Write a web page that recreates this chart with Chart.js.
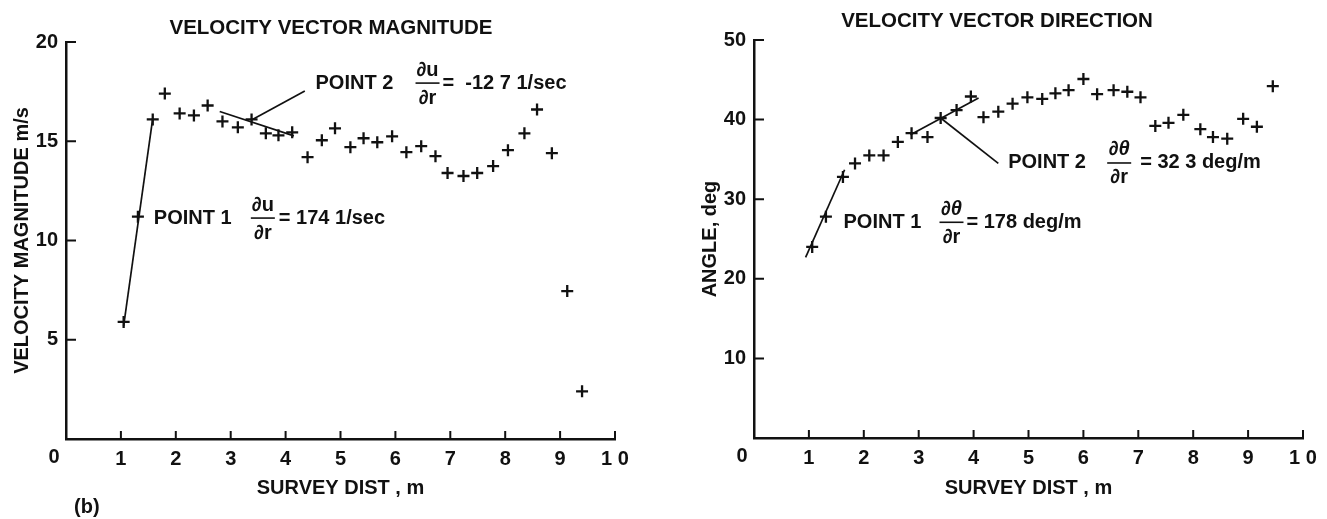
<!DOCTYPE html>
<html>
<head>
<meta charset="utf-8">
<title>Velocity vector magnitude and direction</title>
<script src="https://cdn.jsdelivr.net/npm/chart.js@4.4.1/dist/chart.umd.min.js"></script>
<style>
  html, body { margin: 0; padding: 0; background: #fff; }
  #wrap { position: relative; width: 1327px; height: 519px; overflow: hidden; }
  #magChart { position: absolute; left: 0; top: 0; }
  #dirChart { position: absolute; left: 660px; top: 0; }
</style>
</head>
<body>
<div id="wrap">
  <canvas id="magChart" width="660" height="519"></canvas>
  <canvas id="dirChart" width="667" height="519"></canvas>
</div>
<script>
const FONT = '"Liberation Sans", Arial, Helvetica, sans-serif';
const INK = '#111';

// left panel - velocity vector magnitude (m/s) against survey distance (m)
const magDist = [1.05, 1.31, 1.58, 1.8, 2.07, 2.33, 2.58, 2.85, 3.13, 3.38,
                 3.64, 3.87, 4.12, 4.4, 4.66, 4.9, 5.18, 5.42, 5.67, 5.94,
                 6.2, 6.47, 6.73, 6.95, 7.24, 7.49, 7.78, 8.05, 8.35, 8.58,
                 8.85, 9.13, 9.4];
const magSpeed = [5.9, 11.2, 16.1, 17.4, 16.4, 16.3, 16.8, 16.0, 15.7, 16.1,
                  15.4, 15.3, 15.45, 14.2, 15.05, 15.65, 14.7, 15.15, 14.95, 15.25,
                  14.45, 14.75, 14.25, 13.4, 13.25, 13.4, 13.75, 14.55, 15.4, 16.6,
                  14.4, 7.45, 2.4];
const magTangent1 = [[1.05, 5.7], [1.58, 16.15]];
const magTangent2 = [[2.8, 16.5], [4.15, 15.27]];
const magLeader2 = [[3.38, 16.07], [4.35, 17.53]];

// right panel - velocity vector direction (deg) against survey distance (m)
const dirDist = [1.06, 1.31, 1.62, 1.84, 2.1, 2.36, 2.62, 2.87, 3.16, 3.4,
                 3.69, 3.95, 4.18, 4.45, 4.71, 4.98, 5.25, 5.49, 5.73, 6.0,
                 6.25, 6.55, 6.8, 7.04, 7.31, 7.55, 7.82, 8.13, 8.36, 8.62,
                 8.91, 9.16, 9.45];
const dirAngle = [24.0, 27.8, 32.8, 34.5, 35.5, 35.5, 37.2, 38.3, 37.8, 40.2,
                  41.2, 42.9, 40.3, 41.0, 42.0, 42.8, 42.6, 43.3, 43.7, 45.1,
                  43.2, 43.7, 43.5, 42.8, 39.2, 39.6, 40.6, 38.8, 37.8, 37.6,
                  40.1, 39.1, 44.2];
const dirTangent1 = [[0.94, 22.7], [1.65, 33.7]];
const dirTangent2 = [[2.85, 38.1], [4.09, 42.7]];
const dirLeader2 = [[3.4, 40.2], [4.45, 34.5]];

// x tick labels: the 0 sits at the shared origin, 10 is printed spaced
const xTickLabels = ['0', '1', '2', '3', '4', '5', '6', '7', '8', '9', '1 0'];

const toPts = (xs, ys) => xs.map((v, i) => ({ x: v, y: ys[i] }));
const toXY = pairs => pairs.map(p => ({ x: p[0], y: p[1] }));

// inward tick marks, origin label, panel title and the derivative notes
const panelDecor = {
  id: 'panelDecor',
  afterDraw(chart, args, opts) {
    const { ctx, chartArea, scales: { x, y } } = chart;
    ctx.save();
    ctx.strokeStyle = INK;
    ctx.fillStyle = INK;
    ctx.lineWidth = 2;
    ctx.beginPath();
    x.ticks.forEach(t => {
      if (t.value === 0) return;
      const px = x.getPixelForValue(t.value);
      ctx.moveTo(px, y.bottom);
      ctx.lineTo(px, y.bottom - 8);
    });
    y.ticks.forEach(t => {
      if (t.value === 0) return;
      const py = y.getPixelForValue(t.value);
      ctx.moveTo(x.left, py);
      ctx.lineTo(x.left + 10, py);
    });
    ctx.stroke();

    ctx.font = 'bold 20px ' + FONT;
    ctx.textBaseline = 'middle';
    ctx.textAlign = 'center';
    ctx.fillText(xTickLabels[0], x.left - 12, y.bottom + 18);
    ctx.font = 'bold 20.5px ' + FONT;
    ctx.fillText(opts.title, chartArea.left + opts.titleDx, opts.titleY);
    ctx.font = 'bold 20px ' + FONT;

    opts.notes.forEach(n => {
      const ax = x.getPixelForValue(n.at[0]);
      const ay = y.getPixelForValue(n.at[1]);
      ctx.textAlign = 'left';
      ctx.fillText(n.label, ax, ay);
      const fx = ax + n.fracDx;
      // numerator: partial sign upright, symbol italic for theta
      const wd = ctx.measureText('∂').width;
      ctx.font = (n.italic ? 'italic bold 20px ' : 'bold 20px ') + FONT;
      const ws = ctx.measureText(n.sym).width;
      ctx.font = 'bold 20px ' + FONT;
      const nx = fx - (wd + ws) / 2;
      ctx.fillText('∂', nx, ay - 13);
      ctx.font = (n.italic ? 'italic bold 20px ' : 'bold 20px ') + FONT;
      ctx.fillText(n.sym, nx + wd, ay - 13);
      ctx.font = 'bold 20px ' + FONT;
      ctx.textAlign = 'center';
      ctx.fillText('∂r', fx, ay + 15);
      ctx.beginPath();
      ctx.lineWidth = 1.6;
      ctx.moveTo(fx - 12, ay);
      ctx.lineTo(fx + 12, ay);
      ctx.stroke();
      ctx.textAlign = 'left';
      ctx.fillText(n.value, ax + n.restDx, ay);
    });

    if (opts.tag) {
      ctx.textAlign = 'left';
      ctx.fillText(opts.tag, chartArea.left + 8, 507);
    }
    ctx.restore();
  }
};

function makePanel(id, cfg) {
  const tickFont = { family: FONT, size: 20, weight: 'bold' };
  new Chart(document.getElementById(id), {
    type: 'scatter',
    data: {
      datasets: [
        {
          data: cfg.points,
          pointStyle: 'cross',
          pointRadius: 6,
          pointBorderWidth: 2.3,
          borderColor: INK,
          backgroundColor: INK,
          showLine: false
        },
        ...cfg.lines.map(l => ({
          data: toXY(l),
          showLine: true,
          borderColor: INK,
          borderWidth: 1.7,
          pointRadius: 0
        }))
      ]
    },
    options: {
      responsive: false,
      animation: false,
      events: [],
      layout: { padding: { top: cfg.top, right: cfg.right, left: 0, bottom: 0 } },
      plugins: {
        legend: { display: false },
        tooltip: { enabled: false },
        panelDecor: cfg.decor
      },
      scales: {
        x: {
          type: 'linear',
          min: 0,
          max: 10,
          afterFit: s => { s.height = cfg.xHeight; },
          grid: { display: false, drawTicks: false },
          border: { display: true, color: INK, width: 2.5 },
          ticks: {
            stepSize: 1,
            padding: 8,
            color: INK,
            font: tickFont,
            callback: v => (v === 0 ? '' : xTickLabels[v])
          },
          title: {
            display: true,
            text: 'SURVEY DIST , m',
            color: INK,
            font: { family: FONT, size: 20, weight: 'bold' },
            padding: { top: 0, bottom: 19 }
          }
        },
        y: {
          type: 'linear',
          min: 0,
          max: cfg.yMax,
          afterFit: s => { s.width = cfg.yWidth; },
          grid: { display: false, drawTicks: false },
          border: { display: true, color: INK, width: 2.5 },
          ticks: {
            stepSize: cfg.yStep,
            padding: 8,
            color: INK,
            font: tickFont,
            callback: v => (v === 0 ? '' : v)
          },
          title: {
            display: true,
            text: cfg.yTitle,
            color: INK,
            font: { family: FONT, size: 20, weight: 'bold' },
            padding: { top: cfg.yTitlePad }
          }
        }
      }
    },
    plugins: [panelDecor]
  });
}

makePanel('magChart', {
  points: toPts(magDist, magSpeed),
  lines: [magTangent1, magTangent2, magLeader2],
  top: 42, right: 45, xHeight: 80, yWidth: 66,
  yMax: 20, yStep: 5,
  yTitle: 'VELOCITY MAGNITUDE m/s', yTitlePad: 10,
  decor: {
    title: 'VELOCITY VECTOR MAGNITUDE', titleDx: 265, titleY: 28,
    tag: '(b)',
    notes: [
      { at: [4.545, 17.93], label: 'POINT 2', sym: 'u', italic: false,
        fracDx: 112, restDx: 127, value: '=  -12 7 1/sec' },
      { at: [1.6, 11.13], label: 'POINT 1', sym: 'u', italic: false,
        fracDx: 109, restDx: 125, value: '= 174 1/sec' }
    ]
  }
});

makePanel('dirChart', {
  points: toPts(dirDist, dirAngle),
  lines: [dirTangent1, dirTangent2, dirLeader2],
  top: 40, right: 24, xHeight: 81, yWidth: 94,
  yMax: 50, yStep: 10,
  yTitle: 'ANGLE, deg', yTitlePad: 38,
  decor: {
    title: 'VELOCITY VECTOR DIRECTION', titleDx: 243, titleY: 21,
    notes: [
      { at: [4.63, 34.55], label: 'POINT 2', sym: 'θ', italic: true,
        fracDx: 111, restDx: 132, value: '= 32 3 deg/m' },
      { at: [1.63, 27.1], label: 'POINT 1', sym: 'θ', italic: true,
        fracDx: 108, restDx: 123, value: '= 178 deg/m' }
    ]
  }
});
</script>
</body>
</html>
